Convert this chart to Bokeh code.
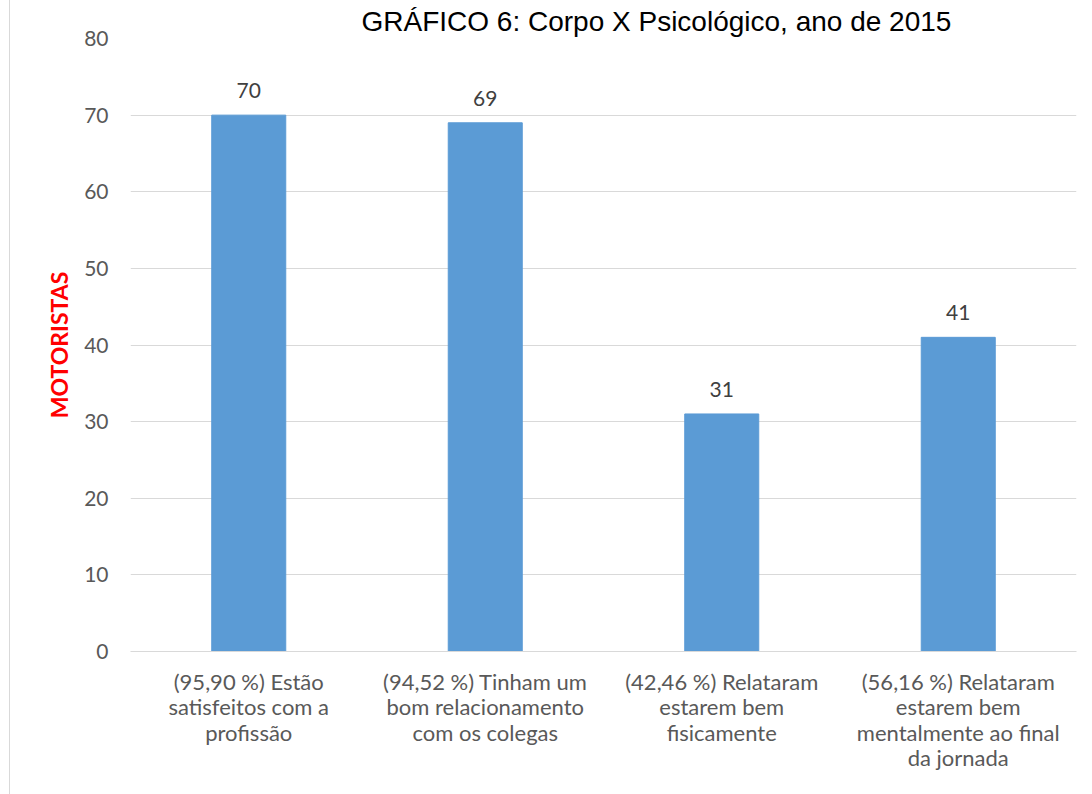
from bokeh.plotting import figure
from bokeh.models import ColumnDataSource, LabelSet, Range1d, FactorRange, FixedTicker
from bokeh.core.properties import value
from bokeh.embed import file_html
from bokeh.resources import INLINE

categories = [
    "(95,90 %) Estão\nsatisfeitos com a\nprofissão",
    "(94,52 %) Tinham um\nbom relacionamento\ncom os colegas",
    "(42,46 %) Relataram\nestarem bem\nfisicamente",
    "(56,16 %) Relataram\nestarem bem\nmentalmente ao final\nda jornada",
]
values = [70, 69, 31, 41]
y_ticks = [0, 10, 20, 30, 40, 50, 60, 70, 80]
title_text = "GRÁFICO 6: Corpo X Psicológico, ano de 2015"
y_title = "MOTORISTAS"

FONT = "Lato"
SHIFT = 10  # outer border offset (left)
src = ColumnDataSource(dict(cat=categories, val=values, lab=[str(v) for v in values]))

p = figure(width=1092 - SHIFT, height=794, x_range=FactorRange(*categories, range_padding=0),
           y_range=Range1d(0, 80), output_backend="svg", toolbar_location=None,
           min_border_left=130 - SHIFT, min_border_right=16, min_border_top=38, min_border_bottom=143)
p.styles = {"margin-left": "9px", "border-left": "1px solid #d9d9d9"}
p.outline_line_color = None
p.background_fill_color = "white"
p.border_fill_color = "white"

p.title.text = title_text
p.title.text_font = "Liberation Sans"
p.title.text_font_size = "28px"
p.title.text_font_style = "normal"
p.title.text_color = "#000000"
p.title.align = "left"
p.title.offset = 231
p.title.standoff = 3

p.vbar(x="cat", top="val", width=0.313, source=src, color="#5b9bd5")

p.add_layout(LabelSet(x="cat", y="val", text="lab", source=src, y_offset=17,
                      text_align="center", text_baseline="bottom",
                      text_font=value(FONT), text_font_size="21px", text_color="#404040"))

p.xgrid.grid_line_color = None
p.ygrid.grid_line_color = "#d9d9d9"
p.ygrid.grid_line_width = 1
p.yaxis.ticker = FixedTicker(ticks=y_ticks)
p.yaxis.axis_line_color = None
p.yaxis.major_tick_line_color = None
p.yaxis.minor_tick_line_color = None
p.yaxis.major_label_text_font = FONT
p.yaxis.major_label_text_font_size = "21px"
p.yaxis.major_label_text_color = "#595959"
p.yaxis.major_label_standoff = 16
p.yaxis.axis_label = y_title
p.yaxis.axis_label_text_font = FONT
p.yaxis.axis_label_text_font_style = "bold"
p.yaxis.axis_label_text_font_size = "23px"
p.yaxis.axis_label_text_color = "#ff0000"
p.yaxis.axis_label_standoff = 8

p.xaxis.axis_line_color = "#d9d9d9"
p.xaxis.major_tick_line_color = None
p.xaxis.minor_tick_line_color = None
p.xaxis.major_label_text_font = FONT
p.xaxis.major_label_text_font_size = "22px"
p.xaxis.major_label_text_line_height = 0.95
p.xaxis.major_label_text_color = "#595959"
p.xaxis.major_label_standoff = 10

open("out.html", "w").write(file_html(p, INLINE))
